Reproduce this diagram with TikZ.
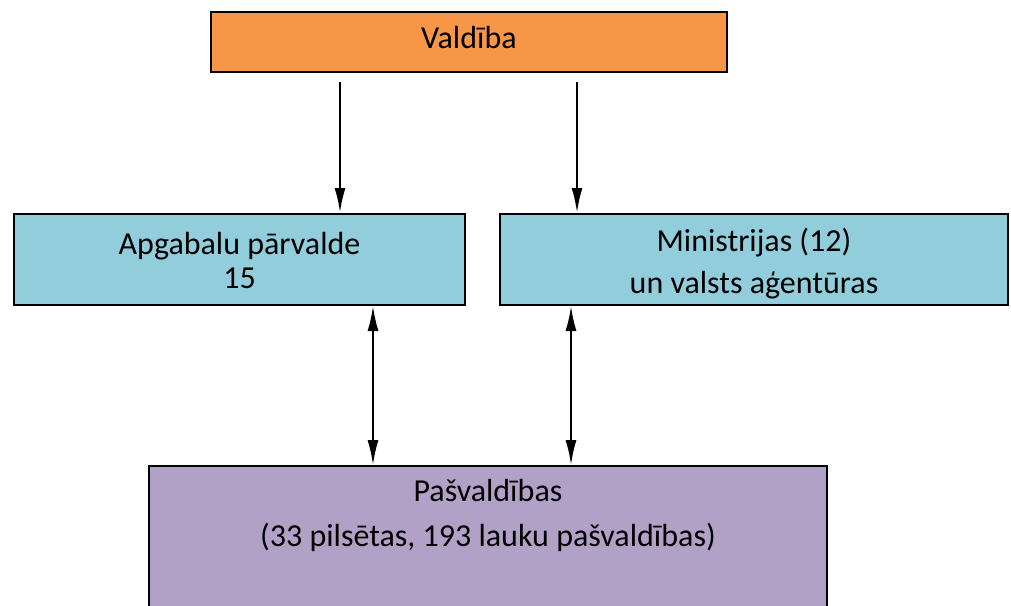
\documentclass[tikz,border=0pt]{standalone}
\usepackage{fontspec}
\setmainfont{Carlito}
\usetikzlibrary{arrows.meta}
\definecolor{govorange}{HTML}{F79646}
\definecolor{regblue}{HTML}{92CDDC}
\definecolor{munipurple}{HTML}{B2A1C7}
\begin{document}
\begin{tikzpicture}[x=1pt,y=-1pt,
  box/.style={draw=black, line width=2pt, rectangle, inner sep=0pt, align=center},
  txt/.style={font=\fontsize{32}{#1}\selectfont, align=center, inner sep=0pt},
  down/.style={line width=2.4pt, -{Latex[length=25pt,width=11pt]}},
  both/.style={line width=2pt, {Latex[length=25pt,width=11pt]}-{Latex[length=25pt,width=11pt]}}]
\useasboundingbox (0,0) rectangle (1011,605);
\clip (0,0) rectangle (1011,605);
% boxes, each caption set as a centred label
\node[box, fill=govorange, minimum width=516pt, minimum height=60pt,
  label={[txt=34, yshift=4.5pt]center:Valdība}] (gov) at (469,42) {};
\node[box, fill=regblue, minimum width=451pt, minimum height=91pt,
  label={[txt=34, yshift=-1pt]center:Apgabalu pārvalde\\15}] (reg) at (239.5,259.5) {};
\node[box, fill=regblue, minimum width=508pt, minimum height=91pt,
  label={[txt=42, yshift=-4pt]center:Ministrijas (12)\\un valsts aģentūras}] (min) at (754,259.5) {};
\node[box, fill=munipurple, minimum width=678pt, minimum height=154pt,
  label={[txt=45, yshift=27.5pt]center:Pašvaldības\\(33 pilsētas, 193 lauku pašvaldības)}] (muni) at (488,543) {};
% connectors
\coordinate (a1) at (340,82);
\coordinate (a2) at (577,82);
\draw[down] (a1) -- (a1 |- reg.north);
\draw[down] (a2) -- (a2 |- min.north);
\coordinate (b1) at (373,0);
\coordinate (b2) at (571,0);
\draw[both] (b1 |- reg.south) -- (b1 |- muni.north);
\draw[both] (b2 |- min.south) -- (b2 |- muni.north);
\end{tikzpicture}
\end{document}
